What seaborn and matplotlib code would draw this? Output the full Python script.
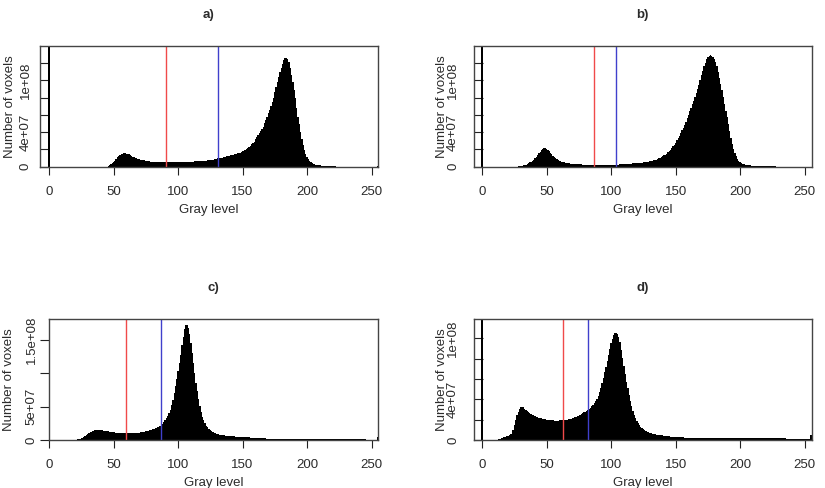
import matplotlib
matplotlib.use("Agg")
import numpy as np
import matplotlib.pyplot as plt
import seaborn as sns

sns.set_style("white")
plt.rcParams["font.family"] = ["Liberation Sans", "DejaVu Sans"]

# gray levels 0..255
gray_levels = list(range(256))

# number of voxels per gray level, in millions
# gray level 0 (background) is far above the top of every panel
counts_a = (
    [300]
    + [0] * 45
    + [0.5, 1.5, 3, 4.5, 5.5, 7, 9, 11, 12.5, 13.5, 14.5, 15.2, 15.5, 15.5, 15.2, 14.8, 14.3, 13.5,
       12.6, 11.8, 11, 10.3, 9.7, 9.2, 8.7, 8.3, 7.9, 7.6, 7.3, 7, 6.7, 6.4, 6.2, 6, 5.8]
    + [5.7, 5.6, 5.5, 5.4, 5.3, 5.3, 5.2, 5.2, 5.2, 5.2, 5.2, 5.2, 5.2, 5.3, 5.3, 5.3, 5.3, 5.4, 5.4, 5.5]
    + [5.5, 5.5, 5.6, 5.6, 5.7, 5.7, 5.8, 5.8, 5.9, 5.9, 6.0, 6.0, 6.1, 6.1, 6.2, 6.3, 6.4, 6.5, 6.6, 6.7]
    + [6.9, 7.1, 7.3, 7.5, 7.7, 8.0, 8.3, 8.6, 8.9, 9.2, 9.5, 9.8]
    + [10.1, 10.4, 10.8, 11.2, 11.6, 12.0, 12.4, 12.8, 13.2, 13.6, 14.0, 14.4, 14.8, 15.3, 15.8, 16.4, 17.0, 17.7]
    + [18.5, 19.5, 20.6, 21.8, 23.0, 24.3, 25.7, 27.0, 29, 31.5]
    + [34, 36.5, 39, 41.5, 44, 46.5, 50, 54, 58, 62]
    + [66, 70.5, 75, 80, 86, 92, 98, 104, 109, 114]
    + [119, 123, 125.5, 126, 124.5, 121, 114, 106, 98, 89]
    + [79, 68, 58, 49, 40, 32, 25, 19.5, 15, 11.5]
    + [9, 7, 5.2, 4.2, 3.4, 2.8, 2.3, 1.9, 1.6, 1.4]
    + [1.3, 1.2, 1.1, 1.1, 1.0, 1.0, 0.9, 0.9, 0.8, 0.8, 0.7, 0.5, 0.2]
    + [0] * 31
    + [0.8]
)

counts_b = (
    [300]
    + [0] * 26
    + [0.2, 0.5, 0.7, 0.9, 1.1, 1.4, 1.9, 2.5, 3.2, 4.0, 4.9, 5.8, 7.0, 8.3, 9.8, 11.6, 13.5, 15.4,
       17.2, 19.0, 20.3, 21.1, 21.3, 20.9]
    + [19.8, 18.2, 16.3, 14.3, 12.4, 10.8, 9.5, 8.5, 7.7, 7.0, 6.4, 5.9, 5.4, 5.0, 4.7, 4.4, 4.1, 3.8,
       3.6, 3.4, 3.2, 3.1, 3.0, 2.9, 2.8, 2.7, 2.6, 2.5, 2.5, 2.4]
    + [2.4] + [2.3] * 23 + [2.4]
    + [2.5, 2.6, 2.7, 2.8, 2.9, 3.0, 3.1, 3.2, 3.3, 3.5, 3.6, 3.8]
    + [3.9, 4.0, 4.1, 4.3, 4.4, 4.6, 4.7, 4.9, 5.1, 5.3, 5.5, 5.8, 6.1]
    + [6.5, 6.9, 7.3, 7.8, 8.3, 8.9, 9.6, 10.3, 11.1, 12.0, 13.0, 14.0, 15.2, 16.5, 18.0, 19.6, 21.4,
       23.4, 25.6, 28.0]
    + [31, 33.5, 36, 39, 42, 45, 48.5, 52, 56, 60]
    + [64, 68, 72, 76, 80.5, 85, 90, 95, 100.5, 106]
    + [111, 116, 120.5, 124.5, 127, 128.5, 128.8, 128, 126.5, 124.5]
    + [121, 116, 110, 103, 96, 88.5, 81, 73, 65, 57]
    + [49, 41, 33, 26, 20, 15.5, 12, 9, 6.8, 5.0]
    + [4.0, 3.2, 2.6, 2.2, 1.9, 1.7, 1.5, 1.4, 1.3, 1.2]
    + [1.1, 1.1, 1.0, 1.0, 1.0, 0.9, 0.9, 0.9, 0.9, 0.8, 0.8, 0.8, 0.8, 0.7, 0.7, 0.6, 0.5, 0.2]
    + [0] * 27
)

counts_c = (
    [0]
    + [0] * 20
    + [0.3, 0.8, 1.5, 2.2, 2.8, 3.3, 4.5, 5.8, 7.2, 8.8, 10.2, 11.5, 12.6, 13.6, 14.3, 14.8, 15.0, 15.1, 15.0, 14.8]
    + [14.5, 14.2, 13.9, 13.6, 13.3, 13.0, 12.7, 12.4, 12.1, 11.8, 11.5, 11.2, 11.0, 10.8, 10.6, 10.4,
       10.3, 10.2, 10.1, 10.0]
    + [10.0, 10.0, 10.0, 10.0, 10.1, 10.2, 10.3, 10.5, 10.7, 11.0, 11.3, 11.7, 12.1, 12.6, 13.1, 13.6,
       14.2, 14.8, 15.2, 15.8]
    + [16.4, 17.1, 17.9, 19, 20.2, 21.5, 23, 24.5, 27, 30]
    + [33, 36.5, 40.5, 45.5, 52, 60, 70, 81, 92, 103]
    + [115, 128, 142, 155, 166, 172, 172, 168, 159, 146]
    + [131, 115, 100, 86, 73, 61, 51, 42, 35, 29.5]
    + [25, 21.5, 19, 17, 15, 13.3, 12, 10.8, 9.9, 9.1]
    + [8.5, 8.0, 7.6, 7.3, 7.0, 6.8, 6.6, 6.4, 6.2, 6.0]
    + [5.8, 5.7, 5.5, 5.4, 5.2, 5.1, 4.9, 4.8, 4.7, 4.5]
    + [4.4, 4.3, 4.2, 4.0, 3.9, 3.7, 3.5, 3.3, 3.1, 3.0]
    + [2.9, 2.8, 2.7, 2.6, 2.5, 2.4, 2.3, 2.3, 2.2, 2.2, 2.1, 2.1, 2.0, 2.0, 2.0]
    + [2.0] * 30
    + [1.8] * 30
    + [1.6] * 9
    + [1.0]
    + [0] * 9
    + [4]
)

counts_d = (
    [300]
    + [0] * 11
    + [0.3, 1.0, 1.3, 1.7, 2.2, 2.8, 3.3, 3.8, 4.3, 4.9, 5.5, 6.3, 10, 15, 20, 24.5, 27.5, 30.5, 32.3]
    + [32.8, 32.2, 30.9, 29.6, 28.5, 27.5, 26.6, 25.8, 25.0, 24.3, 23.6, 23.0, 22.5, 22.0, 21.6, 21.2,
       20.9, 20.6, 20.3, 20.0]
    + [19.8, 19.6, 19.4, 19.3, 19.2, 19.1, 19.1, 19.1, 19.1, 19.2, 19.3, 19.4, 19.6, 19.7, 19.9, 20.1,
       20.4, 20.7, 21.0, 21.4]
    + [21.8, 22.3, 22.8, 23.4, 24.0, 24.7, 25.5, 26.3, 27.1, 27.8, 28.4, 29.3, 30.4, 31.6, 33.0, 34.5,
       36.3, 38.3, 40.5, 43]
    + [47, 51.5, 56, 61, 66.5, 72, 78, 84, 89.5, 95]
    + [99.5, 103, 105, 105.5, 104, 101, 96, 89, 81, 73]
    + [65, 57.5, 51, 44.5, 38.5, 33.5, 29, 25, 21.5, 18.7]
    + [16.3, 14.5, 13, 11.7, 10.6, 9.6, 8.8, 8.1, 7.5, 7.0]
    + [6.6, 6.3, 6.0, 5.7, 5.4, 5.2, 5.0, 4.8, 4.6, 4.5]
    + [4.3, 4.1, 3.9, 3.7, 3.5, 3.4, 3.3, 3.2, 3.1, 3.0]
    + [2.9, 2.8, 2.7, 2.6, 2.5, 2.5, 2.4, 2.4, 2.3, 2.3, 2.3, 2.2, 2.2, 2.2, 2.2]
    + [2.1] * 35
    + [2.0] * 35
    + [1.2] * 13
    + [1.0] * 6
    + [5]
)

panel_counts = [counts_a, counts_b, counts_c, counts_d]
for c in panel_counts:
    assert len(c) == 256

panel_titles = ["a)", "b)", "c)", "d)"]
red_lines = [91, 87, 60, 63]
blue_lines = [131, 104, 87, 82]

x_ticks = [0, 50, 100, 150, 200, 250]
y_ticks = [
    [0, 2e7, 4e7, 6e7, 8e7, 1e8, 1.2e8],
    [0, 2e7, 4e7, 6e7, 8e7, 1e8, 1.2e8],
    [0, 5e7, 1e8, 1.5e8],
    [0, 2e7, 4e7, 6e7, 8e7, 1e8],
]
y_ticklabels = [
    ["0", "", "4e+07", "", "", "1e+08", ""],
    ["0", "", "4e+07", "", "", "1e+08", ""],
    ["0", "5e+07", "", "1.5e+08"],
    ["0", "", "4e+07", "", "", "1e+08"],
]
y_tops = [1.4e8, 1.4e8, 1.815e8, 1.19e8]
x_lims = [(-7, 255), (-6.5, 255.7), (0, 255), (-6.5, 255.7)]

# layout in pixels: left, right, top, bottom of each plot box
W, H = 825, 488
boxes = [(40, 378, 45.7, 166.7), (473.7, 812, 45.7, 166.7),
         (49, 378, 319, 440), (473.7, 812, 319, 440)]
tick_dir = ["in", "in", "out", "in"]
ytick_pad = [5.8, 10.5, 1.5, 10.5]
ylabel_x = [16, 448, 15, 448]

fig = plt.figure(figsize=(W / 100, H / 100), dpi=100)
txt = "#2b2b2b"

for i in range(4):
    l, r, t, b = boxes[i]
    ax = fig.add_axes([l / W, 1 - b / H, (r - l) / W, (b - t) / H])
    sns.histplot(x=gray_levels, weights=np.array(panel_counts[i]) * 1e6, discrete=True,
                 color="black", alpha=1, linewidth=0, ax=ax)
    ax.axvline(red_lines[i], color="#f04a4a", lw=1.0)
    ax.axvline(blue_lines[i], color="#4040cc", lw=1.0)

    ax.set_xlim(*x_lims[i])
    ax.set_ylim(0, y_tops[i])
    ax.set_xticks(x_ticks)
    ax.set_xticklabels([str(v) for v in x_ticks], fontsize=9.5, color=txt)
    ax.set_yticks(y_ticks[i])
    ax.set_yticklabels(y_ticklabels[i], rotation=90, va="center", fontsize=9.5, color=txt)
    ax.tick_params(axis="x", bottom=True, direction="out", length=5.8, width=0.8, pad=8, color="#222")
    ax.tick_params(axis="y", left=True, direction=tick_dir[i], length=6.5, width=0.8,
                   pad=ytick_pad[i], color="#222")
    for s in ax.spines.values():
        s.set_visible(True)
        s.set_color("#444")
        s.set_linewidth(1.0)

    # x label top sits about 37 px below the box
    ax.set_xlabel("Gray level", fontsize=9.5, color=txt)
    ax.xaxis.set_label_coords(0.5, -37 / (b - t))
    ax.xaxis.label.set_va("top")
    ax.set_ylabel("Number of voxels", fontsize=9.5, color=txt)
    ax.yaxis.set_label_coords((ylabel_x[i] - l) / (r - l), 0.5)

    # title centred about 31 px above the box
    ax.text(0.5, 1 + 31 / (b - t), panel_titles[i], transform=ax.transAxes,
            ha="center", va="center", fontsize=9.5, fontweight="bold", color=txt)

fig.savefig("out.png", dpi=100)
